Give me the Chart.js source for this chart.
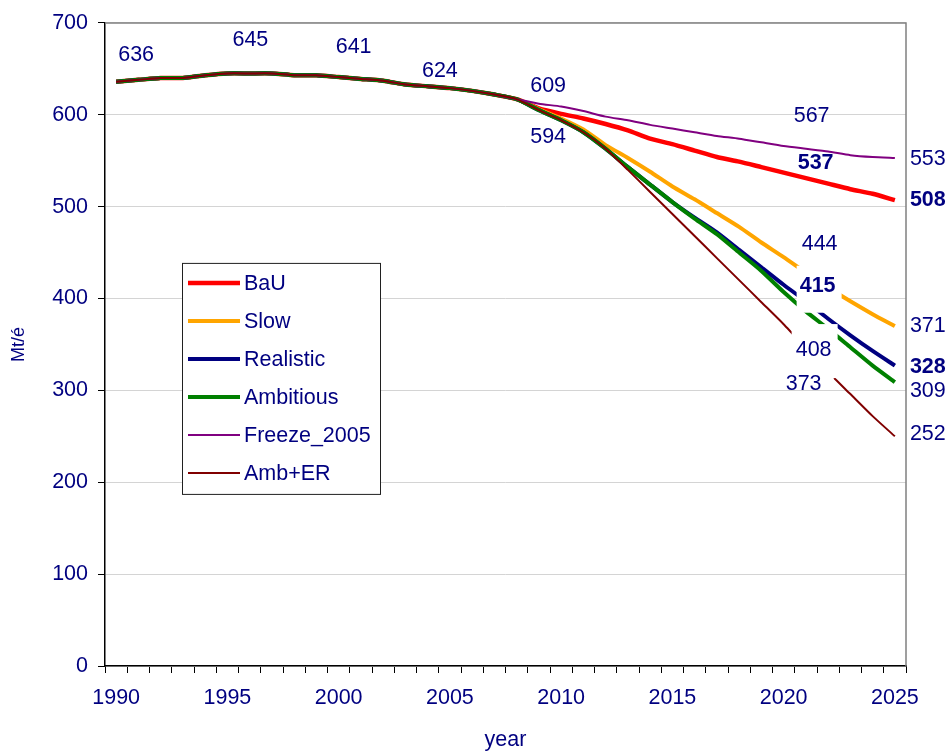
<!DOCTYPE html>
<html>
<head>
<meta charset="utf-8">
<script src="https://cdn.jsdelivr.net/npm/chart.js@4.4.1/dist/chart.umd.min.js"></script>
<style>
  html, body { margin: 0; padding: 0; background: #fff; }
  #wrap { width: 951px; height: 751px; }
</style>
</head>
<body>
<div id="wrap"><canvas id="emChart" width="951" height="751"></canvas></div>
<script>
const years = ['1990','1991','1992','1993','1994','1995','1996','1997','1998','1999',
  '2000','2001','2002','2003','2004','2005','2006','2007','2008','2009',
  '2010','2011','2012','2013','2014','2015','2016','2017','2018','2019',
  '2020','2021','2022','2023','2024','2025'];

const bau = [636,638,640,640,643,645,645,645,643,643,641,639,637,633,631,629,626,622,617,
  607,601,596,590,583,574,568,561,554,549,543,537,531,525,519,514,507];
const slow = [636,638,640,640,643,645,645,645,643,643,641,639,637,633,631,629,626,622,617,
  606,596,584,567,553,538,522,508,493,478,461,445,428,412,397,383,370];
const realistic = [636,638,640,640,643,645,645,645,643,643,641,639,637,633,631,629,626,622,617,
  605,594,581,563,543,524,505,488,472,453,434,415,397,378,360,343,327];
const ambitious = [636,638,640,640,643,645,645,645,643,643,641,639,637,633,631,629,626,622,617,
  605,594,581,563,543,524,505,487,470,450,430,407,386,367,347,327,309];
const freeze2005 = [636,638,640,640,643,645,645,645,643,643,641,639,637,633,631,629,626,622,617,
  612,609,604,598,594,589,585,581,577,574,570,566,563,560,556,554,553];
const ambEr = [636,638,640,640,643,645,645,645,643,643,641,639,637,633,631,629,626,622,617,
  605,594,581,563,540,516,492,468,444,420,396,372,346,320,296,272,250];

const seriesNames = ['BaU', 'Slow', 'Realistic', 'Ambitious', 'Freeze_2005', 'Amb+ER'];
const yTicks = [0, 100, 200, 300, 400, 500, 600, 700];

// value labels: series index, year, text
const labelSeries = [0, 0, 0, 0, 4, 2, 4, 0, 1, 2, 3, 5, 4, 0, 1, 2, 3, 5];
const labelYears = ['1990','1995','2000','2005','2010','2010','2020','2020','2020','2020','2020','2020',
  '2025','2025','2025','2025','2025','2025'];
const labelTexts = ['636','645','641','624','609','594','567','537','444','415','408','373',
  '553','508','371','328','309','252'];

const NAVY = '#000080';
const FONT = "'Liberation Sans', Arial, sans-serif";
const FS = 21.5;
Chart.defaults.font.family = FONT;

const colors = ['#ff0000', '#ffa500', '#000080', '#008000', '#800080', '#800000'];
const widths = [4.5, 4, 4, 4, 2, 2];
const allSeries = [bau, slow, realistic, ambitious, freeze2005, ambEr];

// where each label sits relative to its point (px), bold flag, white box
const labelPlace = [
  {dx: 20, dy: -27}, {dx: 23, dy: -33}, {dx: 15, dy: -30}, {dx: -10, dy: -17},
  {dx: -13, dy: -20}, {dx: -13, dy: 17},
  {dx: 28, dy: -30}, {dx: 32, dy: -10, bold: true}, {dx: 36, dy: -13},
  {dx: 34, dy: 1, bold: true, box: [-21, -20, 24, 27]},
  {dx: 30, dy: 58, box: [-22, -26, 24, 28]},
  {dx: 20, dy: 60, box: [-22, -19, 30, 5]},
  {dx: 15, dy: 1, left: true}, {dx: 15, dy: 0, left: true, bold: true},
  {dx: 15, dy: 0, left: true}, {dx: 15, dy: 1, left: true, bold: true},
  {dx: 15, dy: 9, left: true}, {dx: 15, dy: -2, left: true}
];

const valueLabels = {
  id: 'valueLabels',
  afterDatasetsDraw(chart) {
    const ctx = chart.ctx;
    const xs = chart.scales.x, ys = chart.scales.y;
    const pos = labelTexts.map((t, i) => {
      const s = labelSeries[i];
      const idx = years.indexOf(labelYears[i]);
      const p = labelPlace[i];
      return {
        x: xs.getPixelForValue(idx) + p.dx,
        y: ys.getPixelForValue(allSeries[s][idx]) + p.dy,
        p: p
      };
    });
    ctx.save();
    ctx.fillStyle = '#fff';
    pos.forEach(o => {
      if (o.p.box) {
        const b = o.p.box;
        ctx.fillRect(o.x + b[0], o.y + b[1], b[2] - b[0], b[3] - b[1]);
      }
    });
    ctx.fillStyle = NAVY;
    ctx.textBaseline = 'middle';
    pos.forEach((o, i) => {
      ctx.font = (o.p.bold ? 'bold ' : '') + FS + 'px ' + FONT;
      ctx.textAlign = o.p.left ? 'left' : 'center';
      ctx.fillText(labelTexts[i], o.x, o.y);
    });
    ctx.restore();
  }
};

const frameAndLegend = {
  id: 'frameAndLegend',
  afterDraw(chart) {
    const ctx = chart.ctx;
    const a = chart.chartArea;
    ctx.save();
    // top and right plot border
    ctx.strokeStyle = '#808080';
    ctx.lineWidth = 1.5;
    ctx.beginPath();
    ctx.moveTo(a.left, a.top);
    ctx.lineTo(a.right, a.top);
    ctx.lineTo(a.right, a.bottom);
    ctx.stroke();

    // legend box
    const bx = a.left + 77, by = a.top + 240, bw = 198, bh = 231;
    ctx.fillStyle = '#fff';
    ctx.fillRect(bx, by, bw, bh);
    ctx.strokeStyle = '#202020';
    ctx.lineWidth = 1;
    ctx.strokeRect(bx + 0.5, by + 0.5, bw, bh);
    ctx.font = FS + 'px ' + FONT;
    ctx.textBaseline = 'middle';
    ctx.textAlign = 'left';
    seriesNames.forEach((name, i) => {
      const ry = by + 20 + i * 38;
      ctx.strokeStyle = colors[i];
      ctx.lineWidth = widths[i];
      ctx.beginPath();
      ctx.moveTo(bx + 6, ry);
      ctx.lineTo(bx + 58, ry);
      ctx.stroke();
      ctx.fillStyle = NAVY;
      ctx.fillText(name, bx + 62, ry + 1);
    });
    ctx.restore();
  }
};

const datasets = seriesNames.map((name, i) => ({
  label: name,
  data: allSeries[i],
  borderColor: colors[i],
  backgroundColor: colors[i],
  borderWidth: widths[i],
  pointRadius: 0,
  tension: 0.2,
  fill: false,
  order: 6 - i
}));

new Chart(document.getElementById('emChart').getContext('2d'), {
  type: 'line',
  data: { labels: years, datasets: datasets },
  options: {
    responsive: false,
    animation: false,
    layout: { padding: { left: 0, top: 20, right: 45, bottom: 0 } },
    plugins: { legend: { display: false }, tooltip: { enabled: false } },
    scales: {
      x: {
        type: 'category',
        offset: true,
        afterFit(scale) { scale.height = 85; },
        grid: { offset: true, drawOnChartArea: false, drawTicks: true, tickLength: 7, tickColor: '#000' },
        border: { color: '#000', width: 1.5 },
        ticks: {
          autoSkip: false, maxRotation: 0, padding: 12, color: NAVY,
          font: { size: FS },
          callback: (v, i) => (Number(years[i]) % 5 === 0 ? years[i] : '')
        },
        title: { display: true, text: 'year', color: NAVY, font: { size: FS, lineHeight: 1 }, padding: { top: 0, bottom: 0 } }
      },
      y: {
        min: 0, max: 700,
        afterFit(scale) { scale.width = 105; },
        afterBuildTicks(scale) { scale.ticks = yTicks.map(v => ({ value: v })); },
        grid: { color: '#d4d4d4', lineWidth: 1, tickLength: 7, tickColor: '#000' },
        border: { color: '#000', width: 1.5 },
        ticks: { padding: 10, color: NAVY, font: { size: FS } },
        title: { display: true, text: 'Mt/é', color: NAVY, font: { size: 18 }, padding: { top: 8, bottom: 8 } }
      }
    }
  },
  plugins: [valueLabels, frameAndLegend]
});
</script>
</body>
</html>
